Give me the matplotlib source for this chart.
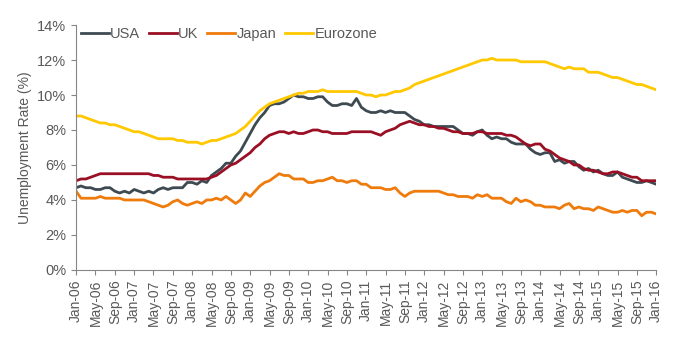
import matplotlib
matplotlib.use('Agg')
from matplotlib import pyplot as plt
from matplotlib.ticker import FuncFormatter

plt.rcParams['font.family'] = ['Liberation Sans', 'DejaVu Sans']

# monthly, Jan-06 .. Jan-16
meses = ['Jan', 'Feb', 'Mar', 'Apr', 'May', 'Jun', 'Jul', 'Aug', 'Sep', 'Oct', 'Nov', 'Dec']
fechas = [f"{m}-{a:02d}" for a in range(6, 16) for m in meses] + ['Jan-16']

usa = [4.7, 4.8, 4.7, 4.7, 4.6, 4.6, 4.7, 4.7, 4.5, 4.4, 4.5, 4.4,
       4.6, 4.5, 4.4, 4.5, 4.4, 4.6, 4.7, 4.6, 4.7, 4.7, 4.7, 5.0,
       5.0, 4.9, 5.1, 5.0, 5.4, 5.6, 5.8, 6.1, 6.1, 6.5, 6.8, 7.3,
       7.8, 8.3, 8.7, 9.0, 9.4, 9.5, 9.5, 9.6, 9.8, 10.0, 9.9, 9.9,
       9.8, 9.8, 9.9, 9.9, 9.6, 9.4, 9.4, 9.5, 9.5, 9.4, 9.8, 9.3,
       9.1, 9.0, 9.0, 9.1, 9.0, 9.1, 9.0, 9.0, 9.0, 8.8, 8.6, 8.5,
       8.3, 8.3, 8.2, 8.2, 8.2, 8.2, 8.2, 8.0, 7.8, 7.8, 7.7, 7.9,
       8.0, 7.7, 7.5, 7.6, 7.5, 7.5, 7.3, 7.2, 7.2, 7.2, 6.9, 6.7,
       6.6, 6.7, 6.7, 6.2, 6.3, 6.1, 6.2, 6.2, 5.9, 5.7, 5.8, 5.6,
       5.7, 5.5, 5.4, 5.4, 5.6, 5.3, 5.2, 5.1, 5.0, 5.0, 5.1, 5.0,
       4.9]

uk = [5.1, 5.2, 5.2, 5.3, 5.4, 5.5, 5.5, 5.5, 5.5, 5.5, 5.5, 5.5,
      5.5, 5.5, 5.5, 5.5, 5.4, 5.4, 5.3, 5.3, 5.3, 5.2, 5.2, 5.2,
      5.2, 5.2, 5.2, 5.2, 5.3, 5.4, 5.6, 5.8, 6.0, 6.1, 6.3, 6.5,
      6.7, 7.0, 7.2, 7.5, 7.7, 7.8, 7.9, 7.9, 7.8, 7.9, 7.8, 7.8,
      7.9, 8.0, 8.0, 7.9, 7.9, 7.8, 7.8, 7.8, 7.8, 7.9, 7.9, 7.9,
      7.9, 7.9, 7.8, 7.7, 7.9, 8.0, 8.1, 8.3, 8.4, 8.5, 8.4, 8.3,
      8.3, 8.2, 8.2, 8.1, 8.1, 8.0, 7.9, 7.9, 7.8, 7.8, 7.8, 7.9,
      7.9, 7.8, 7.8, 7.8, 7.8, 7.7, 7.7, 7.6, 7.4, 7.2, 7.1, 7.2,
      7.2, 6.9, 6.8, 6.6, 6.4, 6.3, 6.2, 6.0, 6.0, 5.8, 5.7, 5.7,
      5.6, 5.5, 5.5, 5.6, 5.6, 5.5, 5.4, 5.3, 5.3, 5.1, 5.1, 5.1,
      5.1]

japon = [4.5, 4.1, 4.1, 4.1, 4.1, 4.2, 4.1, 4.1, 4.1, 4.1, 4.0, 4.0,
         4.0, 4.0, 4.0, 3.9, 3.8, 3.7, 3.6, 3.7, 3.9, 4.0, 3.8, 3.7,
         3.8, 3.9, 3.8, 4.0, 4.0, 4.1, 4.0, 4.2, 4.0, 3.8, 4.0, 4.4,
         4.2, 4.5, 4.8, 5.0, 5.1, 5.3, 5.5, 5.4, 5.4, 5.2, 5.2, 5.2,
         5.0, 5.0, 5.1, 5.1, 5.2, 5.3, 5.1, 5.1, 5.0, 5.1, 5.1, 4.9,
         4.9, 4.7, 4.7, 4.7, 4.6, 4.6, 4.7, 4.4, 4.2, 4.4, 4.5, 4.5,
         4.5, 4.5, 4.5, 4.5, 4.4, 4.3, 4.3, 4.2, 4.2, 4.2, 4.1, 4.3,
         4.2, 4.3, 4.1, 4.1, 4.1, 3.9, 3.8, 4.1, 3.9, 4.0, 3.9, 3.7,
         3.7, 3.6, 3.6, 3.6, 3.5, 3.7, 3.8, 3.5, 3.6, 3.5, 3.5, 3.4,
         3.6, 3.5, 3.4, 3.3, 3.3, 3.4, 3.3, 3.4, 3.4, 3.1, 3.3, 3.3,
         3.2]

eurozona = [8.8, 8.8, 8.7, 8.6, 8.5, 8.4, 8.4, 8.3, 8.3, 8.2, 8.1, 8.0,
            7.9, 7.9, 7.8, 7.7, 7.6, 7.5, 7.5, 7.5, 7.5, 7.4, 7.4, 7.3,
            7.3, 7.3, 7.2, 7.3, 7.4, 7.4, 7.5, 7.6, 7.7, 7.8, 8.0, 8.2,
            8.5, 8.8, 9.1, 9.3, 9.5, 9.6, 9.7, 9.8, 9.9, 10.0, 10.1, 10.1,
            10.2, 10.2, 10.2, 10.3, 10.2, 10.2, 10.2, 10.2, 10.2, 10.2, 10.2, 10.1,
            10.0, 10.0, 9.9, 10.0, 10.0, 10.1, 10.2, 10.2, 10.3, 10.4, 10.6, 10.7,
            10.8, 10.9, 11.0, 11.1, 11.2, 11.3, 11.4, 11.5, 11.6, 11.7, 11.8, 11.9,
            12.0, 12.0, 12.1, 12.0, 12.0, 12.0, 12.0, 12.0, 11.9, 11.9, 11.9, 11.9,
            11.9, 11.9, 11.8, 11.7, 11.6, 11.5, 11.6, 11.5, 11.5, 11.5, 11.3, 11.3,
            11.3, 11.2, 11.1, 11.0, 11.0, 10.9, 10.8, 10.7, 10.6, 10.6, 10.5, 10.4,
            10.3]

series = [('USA', usa, '#3e4a52'), ('UK', uk, '#9a0f24'),
          ('Japan', japon, '#ee7b0c'), ('Eurozone', eurozona, '#ffc800')]

gris = '#595959'

fig = plt.figure(figsize=(6.8, 3.43), dpi=100)
ax = fig.add_axes([0.112, 0.213, 0.853, 0.714])

x = list(range(len(fechas)))
for nombre, valores, color in series:
    ax.plot(x, valores, color=color, linewidth=2.0, label=nombre)

ax.set_xlim(0, 120)
ax.set_ylim(0, 14)
ax.set_yticks(range(0, 15, 2))
ax.yaxis.set_major_formatter(FuncFormatter(lambda v, p: f"{int(v)}%"))
ax.set_xticks(x[::4])
ax.set_xticklabels(fechas[::4], rotation=90)

for lado in ['top', 'right']:
    ax.spines[lado].set_visible(False)
for lado in ['left', 'bottom']:
    ax.spines[lado].set_color('#868686')
ax.tick_params(axis='both', colors='#868686', labelcolor=gris, length=3.5)
ax.tick_params(axis='y', labelsize=10.5)
ax.tick_params(axis='x', labelsize=10)
ax.set_ylabel('Unemployment Rate (%)', color=gris, fontsize=10)

ax.legend(loc='upper left', ncol=4, frameon=False, fontsize=10.5,
          handlelength=1.9, handletextpad=0.1, columnspacing=0.6,
          labelcolor=gris, bbox_to_anchor=(-0.014, 1.045))

fig.savefig('out.png', dpi=100)
